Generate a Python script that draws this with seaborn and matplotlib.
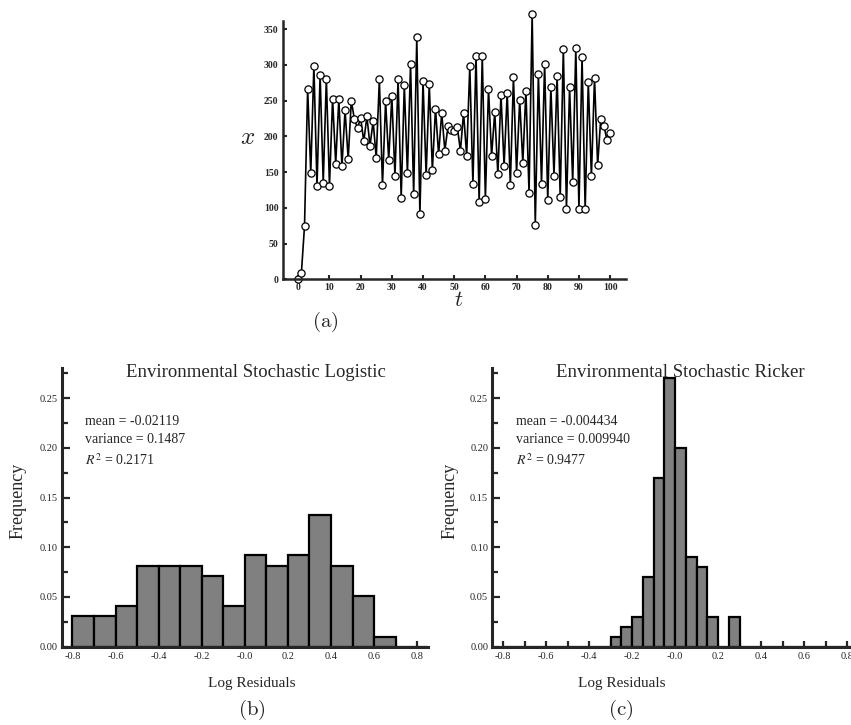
import numpy as np
import pandas as pd
import matplotlib
matplotlib.use("Agg")
import matplotlib.pyplot as plt
import seaborn as sns
from matplotlib.ticker import MultipleLocator, FixedLocator, FixedFormatter

# ---------------- data ----------------
t_steps = list(range(101))
x_values = [1, 9, 75, 267, 149, 299, 131, 286, 135, 281,
            131, 253, 162, 252, 158, 237, 168, 250, 224, 212,
            226, 193, 228, 187, 221, 170, 280, 132, 249, 167,
            256, 145, 280, 114, 272, 149, 301, 119, 339, 91,
            277, 146, 273, 153, 239, 175, 233, 180, 214, 209,
            208, 213, 180, 233, 173, 298, 133, 313, 108, 312,
            113, 266, 173, 234, 147, 258, 159, 261, 132, 283,
            149, 251, 163, 264, 121, 372, 76, 287, 134, 302,
            111, 269, 145, 284, 115, 323, 99, 269, 136, 324,
            98, 311, 98, 276, 144, 282, 160, 225, 215, 195, 205]

logistic_bin_start = -0.8
logistic_bin_width = 0.1
logistic_counts = [3, 3, 4, 8, 8, 8, 7, 4, 9, 8, 9, 13, 8, 5, 1, 0, 0]

ricker_bin_start = -0.8
ricker_bin_width = 0.05
ricker_counts = [0, 0, 0, 0, 0, 0, 0, 0, 0, 0,
                 1, 2, 3, 7, 17, 27, 20, 9, 8, 3, 0, 3,
                 0, 0, 0, 0, 0, 0, 0, 0, 0, 0, 0]

titles = ["Environmental Stochastic Logistic", "Environmental Stochastic Ricker"]
stats_text = [["mean = -0.02119", "variance = 0.1487", "0.2171"],
              ["mean = -0.004434", "variance = 0.009940", "0.9477"]]
hist_xtick_vals = [-0.8, -0.6, -0.4, -0.2, 0.0, 0.2, 0.4, 0.6, 0.8]
hist_xtick_labels = ["-0.8", "-0.6", "-0.4", "-0.2", "-0.0", "0.2", "0.4", "0.6", "0.8"]
hist_ytick_vals = [0.00, 0.05, 0.10, 0.15, 0.20, 0.25]
hist_ytick_labels = ["0.00", "0.05", "0.10", "0.15", "0.20", "0.25"]
ts_xticks = [0, 10, 20, 30, 40, 50, 60, 70, 80, 90, 100]
ts_yticks = [0, 50, 100, 150, 200, 250, 300, 350]

# ---------------- style ----------------
sns.set_style("ticks")
plt.rcParams["font.family"] = ["Liberation Serif", "DejaVu Serif"]
plt.rcParams["axes.linewidth"] = 1.5

W, H = 851, 725
fig = plt.figure(figsize=(W / 100, H / 100), dpi=100)


def fx(px):
    return px / W


def fy(py):
    return 1 - py / H


# ---------------- (a) time series ----------------
ax_a = fig.add_axes([fx(282.7), fy(279.3), 343 / W, 258.6 / H])
df_ts = pd.DataFrame({"t": t_steps, "x": x_values})
sns.lineplot(data=df_ts, x="t", y="x", ax=ax_a, color="black", linewidth=1.2,
             marker="o", markersize=5.2, markerfacecolor="white",
             markeredgecolor="black", markeredgewidth=0.9)
for ln in ax_a.lines:
    ln.set_clip_on(False)
ax_a.set_xlim(-5, 105)
ax_a.set_ylim(0, 362)
ax_a.set_xlabel("")
ax_a.set_ylabel("")
ax_a.xaxis.set_major_locator(FixedLocator(ts_xticks))
ax_a.yaxis.set_major_locator(FixedLocator(ts_yticks))
ax_a.tick_params(direction="in", length=3, width=1.5, labelsize=7, pad=3)
for lab in ax_a.get_xticklabels() + ax_a.get_yticklabels():
    lab.set_fontweight("bold")
for s in ["top", "right"]:
    ax_a.spines[s].set_visible(False)
for s in ["left", "bottom"]:
    ax_a.spines[s].set_linewidth(1.8)

fig.text(fx(248), fy(138), r"$x$", fontsize=18, ha="center", va="center",
         math_fontfamily="cm")
fig.text(fx(459), fy(302), r"$t$", fontsize=16, ha="center", va="center",
         math_fontfamily="cm")
fig.text(fx(325), fy(322), r"$\mathrm{(a)}$", fontsize=15, ha="center", va="center",
         math_fontfamily="cm")


# ---------------- histograms ----------------
def draw_hist(ax, start, width, counts, title, title_xfrac, stats):
    n = len(counts)
    edges = [start + width * i for i in range(n + 1)]
    centers = [start + width * (i + 0.5) for i in range(n)]
    sns.histplot(x=centers, weights=counts, bins=edges, stat="probability", ax=ax,
                 color="#808080", edgecolor="black", linewidth=1.6, alpha=1.0)
    ax.set_xlim(-0.85, 0.85)
    ax.set_ylim(0, 0.28)
    ax.set_xlabel("")
    ax.set_ylabel("")
    ax.xaxis.set_major_locator(FixedLocator(hist_xtick_vals))
    ax.xaxis.set_major_formatter(FixedFormatter(hist_xtick_labels))
    ax.xaxis.set_minor_locator(MultipleLocator(0.1))
    ax.yaxis.set_major_locator(FixedLocator(hist_ytick_vals))
    ax.yaxis.set_major_formatter(FixedFormatter(hist_ytick_labels))
    ax.yaxis.set_minor_locator(MultipleLocator(0.025))
    ax.tick_params(which="both", direction="in", width=1.6, labelsize=7.5)
    ax.tick_params(axis="y", which="major", length=6, pad=3)
    ax.tick_params(axis="y", which="minor", length=4)
    ax.tick_params(axis="x", which="both", length=4, pad=4)
    for s in ["top", "right"]:
        ax.spines[s].set_visible(False)
    for s in ["left", "bottom"]:
        ax.spines[s].set_linewidth(2.2)
    ax.text(title_xfrac, 0.970, title, transform=ax.transAxes, ha="center",
            va="baseline", fontsize=13.5)
    ax.text(-0.742, 0.2226, stats[0], ha="left", va="baseline", fontsize=10)
    ax.text(-0.742, 0.2050, stats[1], ha="left", va="baseline", fontsize=10)
    ax.text(-0.742, 0.1830, r"$R^2$" + " = " + stats[2], ha="left", va="baseline",
            fontsize=10, math_fontfamily="stix")


ax_b = fig.add_axes([fx(61.7), fy(646.7), 366.3 / W, 278.4 / H])
draw_hist(ax_b, logistic_bin_start, logistic_bin_width, logistic_counts,
          titles[0], 0.529, stats_text[0])

ax_c = fig.add_axes([fx(492.3), fy(646.7), 365.5 / W, 278.4 / H])
draw_hist(ax_c, ricker_bin_start, ricker_bin_width, ricker_counts,
          titles[1], 0.5135, stats_text[1])

for cx, lx in [(18, 252), (450, 622)]:
    fig.text(fx(cx), fy(501), "Frequency", rotation=90, ha="center", va="center",
             fontsize=13)
    fig.text(fx(lx), fy(684), "Log Residuals", ha="center", va="center", fontsize=11)

fig.text(fx(252), fy(710), r"$\mathrm{(b)}$", fontsize=15, ha="center", va="center",
         math_fontfamily="cm")
fig.text(fx(621), fy(710), r"$\mathrm{(c)}$", fontsize=15, ha="center", va="center",
         math_fontfamily="cm")

fig.savefig("out.png", dpi=100)
